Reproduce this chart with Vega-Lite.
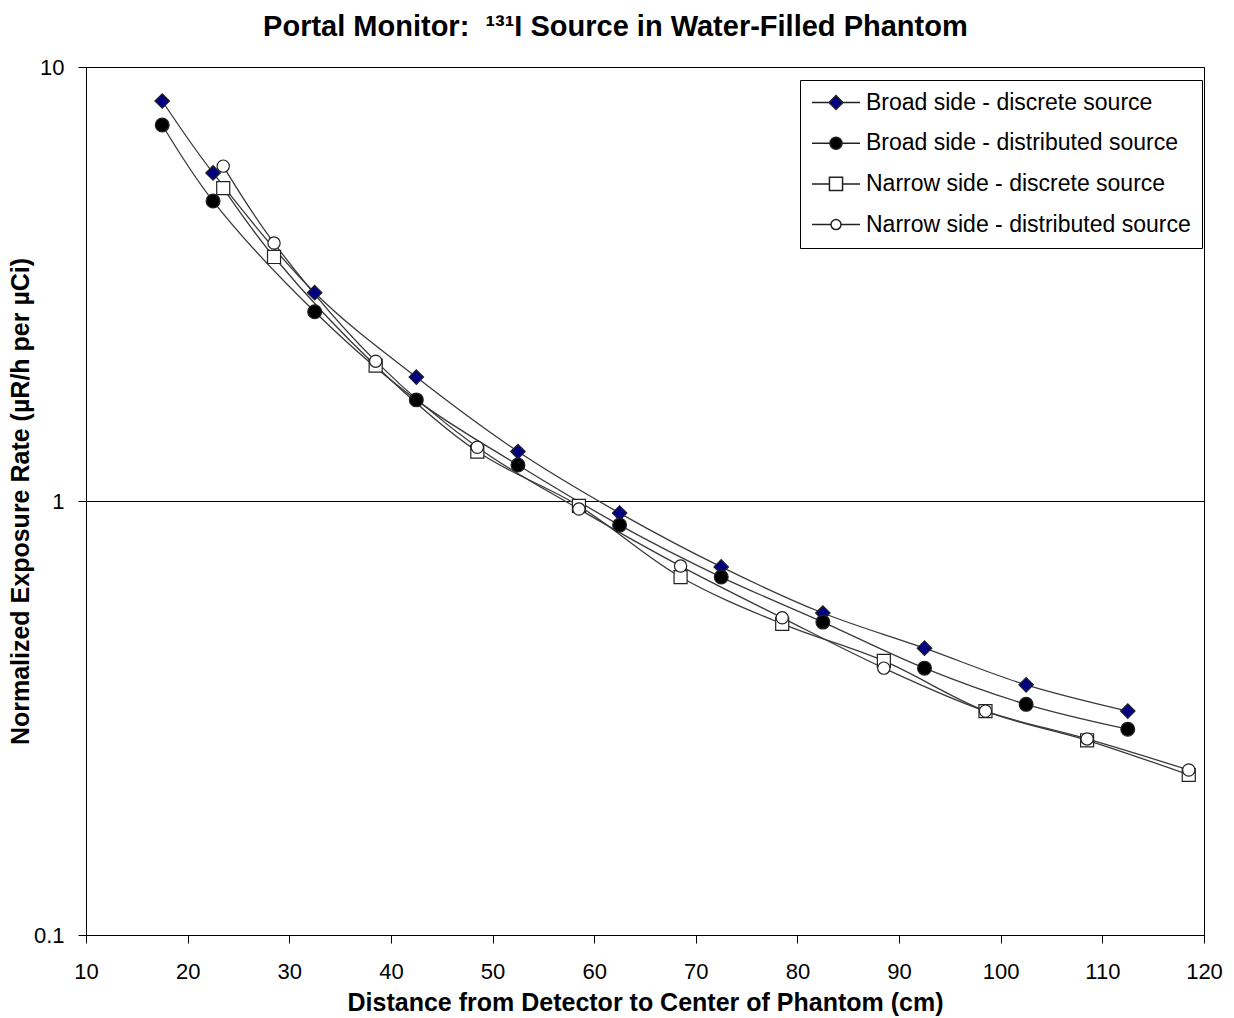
{
  "$schema": "https://vega.github.io/schema/vega-lite/v6.json",
  "autosize": "none",
  "width": 1118,
  "height": 868,
  "padding": {"left": 86, "top": 67, "right": 30, "bottom": 83},
  "background": "white",
  "title": {
    "text": "Portal Monitor:\u00a0\u00a0¹³¹I Source in Water-Filled Phantom",
    "font": "Liberation Sans",
    "fontSize": 29,
    "fontWeight": "bold",
    "color": "black",
    "anchor": "middle",
    "frame": "bounds",
    "offset": 14
  },
  "config": {
    "view": {"stroke": "black", "strokeWidth": 1},
    "axis": {
      "labelFont": "Liberation Sans",
      "titleFont": "Liberation Sans",
      "labelColor": "black",
      "titleColor": "black",
      "domainColor": "black",
      "tickColor": "black",
      "labelFontSize": 22,
      "titleFontSize": 25,
      "titleFontWeight": "bold"
    },
    "legend": {
      "orient": "none",
      "legendX": 714,
      "legendY": 13,
      "strokeColor": "black",
      "fillColor": "white",
      "padding": 11,
      "labelFont": "Liberation Sans",
      "labelFontSize": 23,
      "labelColor": "black",
      "labelOffset": 18.5,
      "symbolOffset": 13.5,
      "rowPadding": 16.7,
      "labelLimit": 400,
      "symbolSize": 432
    }
  },
  "data": {
    "values": [
      {"series": "Broad side - discrete source", "x": 17.5, "y": 8.35},
      {"series": "Broad side - discrete source", "x": 22.5, "y": 5.70},
      {"series": "Broad side - discrete source", "x": 32.5, "y": 3.02},
      {"series": "Broad side - discrete source", "x": 42.5, "y": 1.93},
      {"series": "Broad side - discrete source", "x": 52.5, "y": 1.30},
      {"series": "Broad side - discrete source", "x": 62.5, "y": 0.938},
      {"series": "Broad side - discrete source", "x": 72.5, "y": 0.705},
      {"series": "Broad side - discrete source", "x": 82.5, "y": 0.552},
      {"series": "Broad side - discrete source", "x": 92.5, "y": 0.458},
      {"series": "Broad side - discrete source", "x": 102.5, "y": 0.377},
      {"series": "Broad side - discrete source", "x": 112.5, "y": 0.328},
      {"series": "Broad side - distributed source", "x": 17.5, "y": 7.35},
      {"series": "Broad side - distributed source", "x": 22.5, "y": 4.91},
      {"series": "Broad side - distributed source", "x": 32.5, "y": 2.73},
      {"series": "Broad side - distributed source", "x": 42.5, "y": 1.71},
      {"series": "Broad side - distributed source", "x": 52.5, "y": 1.21},
      {"series": "Broad side - distributed source", "x": 62.5, "y": 0.880},
      {"series": "Broad side - distributed source", "x": 72.5, "y": 0.668},
      {"series": "Broad side - distributed source", "x": 82.5, "y": 0.526},
      {"series": "Broad side - distributed source", "x": 92.5, "y": 0.412},
      {"series": "Broad side - distributed source", "x": 102.5, "y": 0.340},
      {"series": "Broad side - distributed source", "x": 112.5, "y": 0.298},
      {"series": "Narrow side - discrete source", "x": 23.5, "y": 5.26},
      {"series": "Narrow side - discrete source", "x": 28.5, "y": 3.65},
      {"series": "Narrow side - discrete source", "x": 38.5, "y": 2.05},
      {"series": "Narrow side - discrete source", "x": 48.5, "y": 1.30},
      {"series": "Narrow side - discrete source", "x": 58.5, "y": 0.974},
      {"series": "Narrow side - discrete source", "x": 68.5, "y": 0.668},
      {"series": "Narrow side - discrete source", "x": 78.5, "y": 0.521},
      {"series": "Narrow side - discrete source", "x": 88.5, "y": 0.428},
      {"series": "Narrow side - discrete source", "x": 98.5, "y": 0.328},
      {"series": "Narrow side - discrete source", "x": 108.5, "y": 0.281},
      {"series": "Narrow side - discrete source", "x": 118.5, "y": 0.234},
      {"series": "Narrow side - distributed source", "x": 23.5, "y": 5.91},
      {"series": "Narrow side - distributed source", "x": 28.5, "y": 3.93},
      {"series": "Narrow side - distributed source", "x": 38.5, "y": 2.10},
      {"series": "Narrow side - distributed source", "x": 48.5, "y": 1.33},
      {"series": "Narrow side - distributed source", "x": 58.5, "y": 0.958},
      {"series": "Narrow side - distributed source", "x": 68.5, "y": 0.708},
      {"series": "Narrow side - distributed source", "x": 78.5, "y": 0.538},
      {"series": "Narrow side - distributed source", "x": 88.5, "y": 0.412},
      {"series": "Narrow side - distributed source", "x": 98.5, "y": 0.328},
      {"series": "Narrow side - distributed source", "x": 108.5, "y": 0.283},
      {"series": "Narrow side - distributed source", "x": 118.5, "y": 0.240}
    ]
  },
  "encoding": {
    "x": {
      "field": "x",
      "type": "quantitative",
      "scale": {"domain": [10, 120], "nice": false, "zero": false},
      "axis": {
        "title": "Distance from Detector to Center of Phantom (cm)",
        "values": [10, 20, 30, 40, 50, 60, 70, 80, 90, 100, 110, 120],
        "grid": false,
        "tickSize": 8,
        "labelPadding": 18,
        "titlePadding": 8,
        "labelFlush": false
      }
    },
    "y": {
      "field": "y",
      "type": "quantitative",
      "scale": {"type": "log", "domain": [0.1, 10], "nice": false},
      "axis": {
        "title": "Normalized Exposure Rate (µR/h per µCi)",
        "values": [0.1, 1, 10],
        "format": "~g",
        "grid": true,
        "gridColor": "black",
        "gridOpacity": 1,
        "gridWidth": 1,
        "tickSize": 8,
        "labelPadding": 14,
        "titlePadding": 0,
        "labelFlush": false
      }
    }
  },
  "resolve": {
    "scale": {"shape": "independent", "fill": "independent", "size": "independent"},
    "legend": {"shape": "independent", "fill": "independent", "size": "independent"}
  },
  "layer": [
    {
      "mark": {"type": "line", "interpolate": "catmull-rom", "color": "#3a3a3a", "strokeWidth": 1.3},
      "encoding": {"detail": {"field": "series"}}
    },
    {
      "mark": {"type": "point", "filled": false, "opacity": 1, "stroke": "#222222", "strokeWidth": 1.2},
      "encoding": {
        "shape": {
          "field": "series",
          "type": "nominal",
          "scale": {
            "domain": ["Broad side - discrete source", "Broad side - distributed source", "Narrow side - discrete source", "Narrow side - distributed source"],
            "range": ["diamond", "circle", "square", "circle"]
          },
          "legend": null
        },
        "fill": {
          "field": "series",
          "type": "nominal",
          "scale": {
            "domain": ["Broad side - discrete source", "Broad side - distributed source", "Narrow side - discrete source", "Narrow side - distributed source"],
            "range": ["#000080", "#000000", "#ffffff", "#ffffff"]
          },
          "legend": null
        },
        "size": {
          "field": "series",
          "type": "nominal",
          "scale": {
            "domain": ["Broad side - discrete source", "Broad side - distributed source", "Narrow side - discrete source", "Narrow side - distributed source"],
            "range": [210, 150, 180, 130]
          },
          "legend": null
        }
      }
    },
    {
      "transform": [{"filter": "false"}],
      "mark": {"type": "point", "filled": false, "opacity": 1, "stroke": "#222222", "strokeWidth": 1.2},
      "encoding": {
        "shape": {
          "field": "series",
          "type": "nominal",
          "title": null,
          "scale": {
            "domain": ["Broad side - discrete source", "Broad side - distributed source", "Narrow side - discrete source", "Narrow side - distributed source"],
            "range": [
              "M-2.31,0H-0.67M-0.67,0L0,-0.67L0.67,0L0,0.67ZM0.67,0H2.31",
              "M-2.31,0H-0.58M-0.58,0A0.58,0.58 0 1,1 0.58,0A0.58,0.58 0 1,1 -0.58,0ZM0.58,0H2.31",
              "M-2.31,0H-0.63M-0.63,-0.63H0.63V0.63H-0.63ZM0.63,0H2.31",
              "M-2.31,0H-0.48M-0.48,0A0.48,0.48 0 1,1 0.48,0A0.48,0.48 0 1,1 -0.48,0ZM0.48,0H2.31"
            ]
          }
        },
        "fill": {
          "field": "series",
          "type": "nominal",
          "title": null,
          "scale": {
            "domain": ["Broad side - discrete source", "Broad side - distributed source", "Narrow side - discrete source", "Narrow side - distributed source"],
            "range": ["#000080", "#000000", "#ffffff", "#ffffff"]
          }
        }
      }
    }
  ]
}
